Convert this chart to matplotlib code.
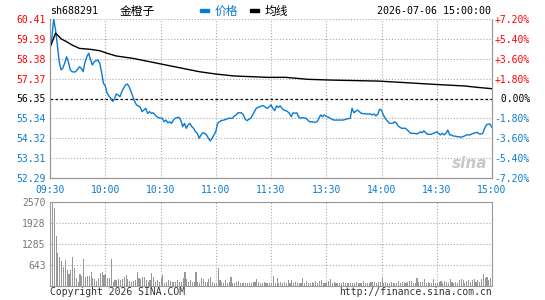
import numpy as np
import matplotlib
matplotlib.use('Agg')
import matplotlib.pyplot as plt

plt.rcParams['font.family'] = ['DejaVu Sans Mono', 'Noto Sans CJK SC']

# axis levels
pre_close = 56.35
price_ticks = [52.29, 53.31, 54.32, 55.34, 56.35, 57.37, 58.38, 59.39, 60.41]
pct_labels = ['-7.20%', '-5.40%', '-3.60%', '-1.80%', ' 0.00%',
              '+1.80%', '+3.60%', '+5.40%', '+7.20%']
time_labels = ['09:30', '10:00', '10:30', '11:00', '11:30',
               '13:30', '14:00', '14:30', '15:00']
vol_ticks = [643, 1285, 1928, 2570]

# minute prices, 09:30 .. 11:30 then 13:01 .. 15:00
price = [
    58.98, 59.44, 60.41, 59.85, 59.08, 58.23, 57.81, 57.91, 58.16, 58.48,
    58.21, 57.81, 57.72, 57.70, 57.72, 57.85, 57.97, 57.89, 57.72, 58.21,
    58.48, 58.66, 58.35, 58.06, 58.23, 58.28, 58.32, 58.15, 57.70, 57.13,
    57.00, 56.62, 56.48, 56.36, 56.20, 56.32, 56.58, 56.53, 56.44, 56.70,
    56.88, 57.04, 57.09, 56.95, 56.70, 56.44, 56.19, 56.02, 55.96, 55.90,
    55.68, 55.76, 55.85, 55.59, 55.68, 55.59, 55.62, 55.52, 55.42, 55.37,
    55.35, 55.34, 55.16, 55.25, 55.11, 55.16, 55.08, 55.25, 55.34, 55.37,
    55.39, 55.25, 54.91, 55.08, 54.83, 55.00, 55.08, 54.91, 54.83, 54.65,
    54.57, 54.32, 54.49, 54.60, 54.57, 54.49, 54.32, 54.18, 54.32, 54.49,
    54.65, 55.08, 55.16, 55.22, 55.24, 55.27, 55.30, 55.34, 55.34, 55.34,
    55.45, 55.51, 55.62, 55.62, 55.62, 55.51, 55.29, 55.22, 55.29, 55.34,
    55.51, 55.68, 55.85, 55.90, 55.93, 55.98, 55.98, 55.90, 55.85, 55.93,
    56.02,
    55.85, 55.73, 55.97, 55.90, 55.97, 55.85, 55.76, 55.73, 55.68, 55.59,
    55.42, 55.62, 55.59, 55.62, 55.42, 55.34, 55.37, 55.36, 55.34, 55.25,
    55.16, 55.16, 55.15, 55.13, 55.16, 55.34, 55.51, 55.42, 55.51, 55.44,
    55.40, 55.34, 55.30, 55.25, 55.25, 55.25, 55.25, 55.25, 55.25, 55.27,
    55.30, 55.32, 55.34, 55.85, 55.62, 55.70, 55.76, 55.68, 55.59, 55.58,
    55.57, 55.56, 55.56, 55.56, 55.51, 55.56, 55.46, 55.56, 55.80, 55.76,
    55.51, 55.34, 55.22, 55.11, 55.08, 55.08, 55.16, 55.11, 54.95, 54.88,
    54.83, 54.83, 54.83, 54.74, 54.65, 54.57, 54.57, 54.57, 54.54, 54.57,
    54.65, 54.60, 54.70, 54.60, 54.52, 54.52, 54.52, 54.57, 54.60, 54.65,
    54.57, 54.49, 54.57, 54.49, 54.57, 54.74, 54.49, 54.49, 54.43, 54.43,
    54.40, 54.40, 54.37, 54.40, 54.43, 54.49, 54.49, 54.49, 54.54, 54.57,
    54.60, 54.62, 54.54, 54.54, 54.57, 54.83, 55.00, 55.05, 55.03, 54.88,
]

# average price line (read at a few minutes)
avg_minutes = [0, 3, 4, 6, 9, 12, 16, 22, 27, 31, 36, 45, 54, 63, 72, 81,
               90, 100, 118, 128, 140, 153, 178, 193, 209, 225, 232, 240]
avg_price = [58.95, 59.68, 59.60, 59.40, 59.25, 59.08, 58.91, 58.86, 58.79,
             58.66, 58.52, 58.40, 58.23, 58.06, 57.89, 57.72, 57.60, 57.50,
             57.43, 57.43, 57.33, 57.29, 57.24, 57.16, 57.07, 56.99, 56.92,
             56.85]

# minute volume (lots)
volume = [
    684, 2570, 2396, 1534, 992, 878, 755, 579, 785, 477,
    345, 477, 887, 548, 240, 99, 345, 293, 816, 271,
    302, 293, 425, 222, 200, 139, 240, 376, 425, 323,
    345, 240, 240, 816, 99, 169, 169, 200, 169, 200,
    271, 323, 191, 139, 99, 148, 169,
    407, 240, 191, 271, 271, 169, 99, 169, 376, 271,
    99, 169, 99, 240, 323, 68, 99, 169, 139, 117,
    99, 99, 169, 99, 99, 222, 407, 200, 99, 169,
    99, 99, 425, 99,
    87, 221, 190, 118, 118, 190, 252, 118, 87, 87, 539,
    170, 118, 87, 170, 87, 118, 262, 87, 87, 118,
    139, 67, 87, 87, 67, 87, 87, 87, 118, 118,
    211, 118, 87, 67, 118, 87, 67, 67, 67,
    293, 87, 231, 67, 118, 87, 118, 87, 170, 87,
    170, 87, 118, 87, 67, 87, 231, 87, 128, 87, 87,
    118, 87, 128, 87, 128, 170, 67, 87, 118, 128,
    200, 87, 118, 87, 67, 87, 67, 118, 67, 87, 87,
    67, 87, 67, 118, 87, 67, 67, 139, 87, 67,
    87, 118, 118, 118, 87, 118, 118, 221, 87, 118, 87,
    87, 118, 67, 87, 87, 139, 87, 118, 118, 87,
    118, 139, 139, 87, 87, 221, 118, 118, 118, 190, 87,
    118, 67, 87, 190, 87, 87, 118, 139, 87, 139,
    118, 87, 190, 118, 87, 118, 87, 170, 190, 170, 87,
    139, 170, 118, 170, 190, 118, 170, 118, 190, 344,
    241, 272, 170, 230, 190,
]
assert len(price) == len(volume) == 241

blue = '#0a7bd2'
red = '#ff0000'
grey = '#999999'
minutes = np.arange(len(price))

fig = plt.figure(figsize=(5.45, 3.0), dpi=100)
ax = fig.add_axes([50 / 545, 122 / 300, 442 / 545, 159 / 300])
axv = fig.add_axes([50 / 545, 14.5 / 300, 442 / 545, 83.5 / 300])

# price panel
ax.grid(color='#aaaaaa', linestyle=':', linewidth=0.8)
ax.axhline(pre_close, color='black', linestyle=(0, (2, 2)), linewidth=0.9, zorder=2)
ax.plot(minutes, price, color=blue, linewidth=1.0, zorder=3)
ax.plot(avg_minutes, avg_price, color='black', linewidth=1.0, zorder=3)
ax.set_xlim(0, 240)
ax.set_ylim(price_ticks[0], price_ticks[-1])
ax.set_xticks(range(0, 241, 30))
ax.set_xticklabels(time_labels, color=blue)
ax.set_yticks(price_ticks)
ax.set_yticklabels(['%.2f' % v for v in price_ticks])
ax.tick_params(length=0, labelsize=7, pad=3)
ax.tick_params(axis='x', pad=5)


def level_color(v):
    if v > pre_close + 0.001:
        return red
    if v < pre_close - 0.001:
        return blue
    return 'black'


for lbl, v in zip(ax.get_yticklabels(), price_ticks):
    lbl.set_color(level_color(v))

ax2 = ax.twinx()
ax2.set_ylim(price_ticks[0], price_ticks[-1])
ax2.set_yticks(price_ticks)
ax2.set_yticklabels(pct_labels)
ax2.tick_params(length=0, labelsize=7, pad=2)
for lbl, v in zip(ax2.get_yticklabels(), price_ticks):
    lbl.set_color(level_color(v))

for a in (ax, ax2):
    for s in a.spines.values():
        s.set_color(grey)
    a.spines['top'].set_visible(False)

# volume panel
axv.bar(minutes, volume, width=0.6, align='edge', color=grey, zorder=3)
axv.set_xlim(0, 240)
axv.set_ylim(0, vol_ticks[-1])
axv.set_xticks(range(0, 241, 30))
axv.set_xticklabels([])
axv.set_yticks(vol_ticks)
axv.set_yticklabels([str(v) for v in vol_ticks], color='#777777')
axv.tick_params(length=0, labelsize=7, pad=3)
axv.grid(color='#aaaaaa', linestyle=':', linewidth=0.8)
for s in axv.spines.values():
    s.set_color(grey)

# header
fig.text(50 / 545, 1 - 11 / 300, 'sh688291', fontsize=7.2, va='center')
fig.text(120 / 545, 1 - 11 / 300, '金橙子', fontsize=8.5, va='center',
         family=['Noto Sans CJK SC', 'DejaVu Sans'])
fig.patches.append(plt.Rectangle((200 / 545, 1 - 12 / 300), 9 / 545, 3 / 300,
                                 transform=fig.transFigure, color=blue))
fig.text(215 / 545, 1 - 11 / 300, '价格', fontsize=8.5, va='center', color=blue,
         family=['Noto Sans CJK SC', 'DejaVu Sans'])
fig.patches.append(plt.Rectangle((250 / 545, 1 - 12 / 300), 9 / 545, 3 / 300,
                                 transform=fig.transFigure, color='black'))
fig.text(265 / 545, 1 - 11 / 300, '均线', fontsize=8.5, va='center',
         family=['Noto Sans CJK SC', 'DejaVu Sans'])
fig.text(491 / 545, 1 - 11 / 300, '2026-07-06 15:00:00', fontsize=7.2,
         va='center', ha='right')

# watermark and footer
fig.text(470 / 545, 1 - 163 / 300, 'sina', fontsize=11, style='italic',
         weight='bold', color='#c8c8c8', ha='center', va='center',
         family='DejaVu Sans')
fig.text(50 / 545, 1 - 292 / 300, 'Copyright 2026 SINA.COM', fontsize=7,
         va='center', color='#333333')
fig.text(492 / 545, 1 - 292 / 300, 'http://finance.sina.com.cn', fontsize=7,
         va='center', ha='right', color='#333333')

fig.savefig('out.png', dpi=100)
